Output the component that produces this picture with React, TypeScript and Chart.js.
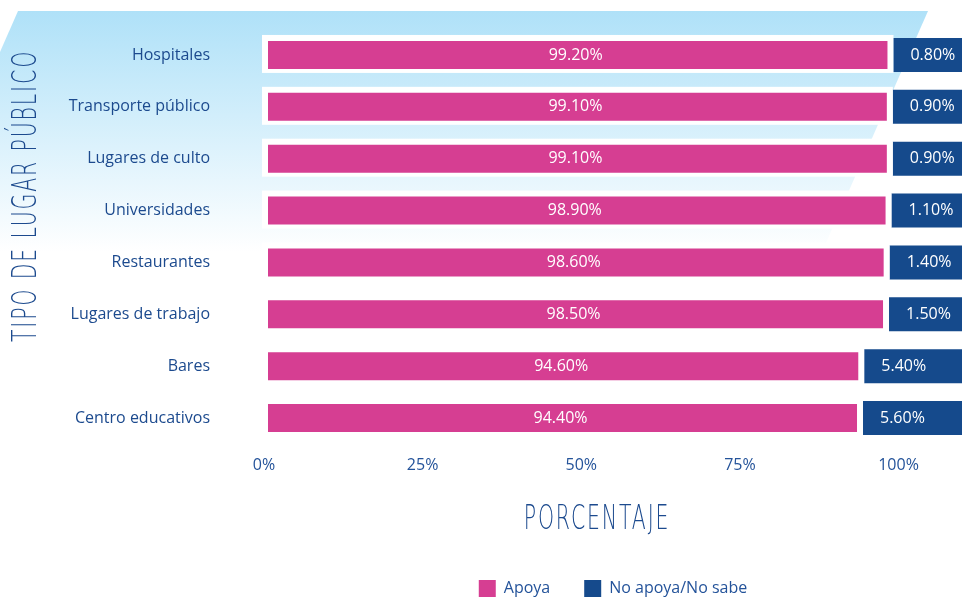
import React, { useEffect, useRef } from "react";
import { Chart, registerables } from "chart.js";

Chart.register(...registerables);

// ---- data ----
const CATEGORIES = [
  "Hospitales",
  "Transporte público",
  "Lugares de culto",
  "Universidades",
  "Restaurantes",
  "Lugares de trabajo",
  "Bares",
  "Centro educativos",
];
const APOYA = [99.2, 99.1, 99.1, 98.9, 98.6, 98.5, 94.6, 94.4];
const NO_APOYA = [0.8, 0.9, 0.9, 1.1, 1.4, 1.5, 5.4, 5.6];
const SERIES_NAMES = ["Apoya", "No apoya/No sabe"];
const TICK_VALUES = [0, 25, 50, 75, 100];
const AXIS_MAX = 110;
const Y_TITLE = "TIPO DE LUGAR PÚBLICO";
const X_TITLE = "PORCENTAJE";

// ---- styles ----
const PINK = "#d63e92";
const NAVY = "#154a8c";
const TEXT = "#1c4a8e";
const THIN = "'DejaVu Sans', sans-serif";
const SANS = "'Open Sans', sans-serif";

const decorPlugin = {
  id: "decor",
  beforeDraw(chart: any) {
    const ctx = chart.ctx;
    const top = 11;
    const bottom = 252;
    const slope = 0.44;
    ctx.save();
    const g = ctx.createLinearGradient(0, top, 0, bottom);
    g.addColorStop(0, "#afe1f8");
    g.addColorStop(1, "#ffffff");
    ctx.fillStyle = g;
    ctx.beginPath();
    ctx.moveTo(18, top);
    ctx.lineTo(928, top);
    ctx.lineTo(928 - slope * (bottom - top), bottom);
    ctx.lineTo(18 - slope * (bottom - top), bottom);
    ctx.closePath();
    ctx.fill();
    ctx.restore();
  },
  beforeDatasetsDraw(chart: any) {
    const ctx = chart.ctx;
    const meta = chart.getDatasetMeta(0);
    ctx.save();
    ctx.fillStyle = "#ffffff";
    meta.data.forEach((bar: any) => {
      const { x, y, base, height } = bar.getProps(["x", "y", "base", "height"], true);
      ctx.fillRect(base - 2, y - height / 2 - 3, x - base + 2, height + 4);
    });
    ctx.restore();
  },
  afterDatasetsDraw(chart: any) {
    const ctx = chart.ctx;
    ctx.save();
    ctx.fillStyle = "#ffffff";
    ctx.font = `16px ${SANS}`;
    ctx.textBaseline = "middle";
    const m0 = chart.getDatasetMeta(0);
    m0.data.forEach((bar: any, i: number) => {
      const { x, y, base } = bar.getProps(["x", "y", "base"], true);
      ctx.textAlign = "center";
      ctx.fillText(APOYA[i].toFixed(2) + "%", (x + base) / 2 - 3, y);
    });
    const m1 = chart.getDatasetMeta(1);
    m1.data.forEach((bar: any, i: number) => {
      const { y, base } = bar.getProps(["y", "base"], true);
      ctx.textAlign = "left";
      ctx.fillText(NO_APOYA[i].toFixed(2) + "%", base + 17, y);
    });
    ctx.restore();
  },
  afterDraw(chart: any) {
    const ctx = chart.ctx;
    ctx.save();
    ctx.fillStyle = TEXT;
    ctx.font = `200 33px ${THIN}`;
    (ctx as any).letterSpacing = "3px";
    ctx.textAlign = "center";
    ctx.textBaseline = "middle";
    // y title
    ctx.save();
    ctx.translate(27, 196);
    ctx.rotate(-Math.PI / 2);
    ctx.scale(0.62, 1);
    ctx.fillText(Y_TITLE, 0, 0);
    ctx.restore();
    // x title
    ctx.save();
    ctx.translate(597, 520);
    ctx.scale(0.62, 1);
    ctx.fillText(X_TITLE, 0, 0);
    ctx.restore();
    (ctx as any).letterSpacing = "0px";
    ctx.restore();
  },
};

export default function App() {
  const ref = useRef<HTMLCanvasElement | null>(null);

  useEffect(() => {
    if (!ref.current) return;
    const chart = new Chart(ref.current, {
      type: "bar",
      data: {
        labels: CATEGORIES,
        datasets: [
          {
            label: SERIES_NAMES[0],
            data: APOYA,
            backgroundColor: PINK,
            borderColor: "#ffffff",
            borderWidth: { left: 4, right: 6, top: 3, bottom: 3 },
            borderSkipped: false,
          },
          {
            label: SERIES_NAMES[1],
            data: APOYA.map((a) => [a, AXIS_MAX]),
            backgroundColor: NAVY,
            borderWidth: 0,
          },
        ],
      },
      options: {
        indexAxis: "y",
        responsive: true,
        maintainAspectRatio: false,
        animation: false,
        layout: { padding: { top: 29, right: 4, left: 0, bottom: 0 } },
        datasets: {
          bar: { grouped: false, barPercentage: 0.655, categoryPercentage: 1 },
        },
        scales: {
          x: {
            min: 0,
            max: AXIS_MAX,
            grid: { display: false, drawTicks: false },
            border: { display: false },
            afterBuildTicks: (scale: any) => {
              scale.ticks = TICK_VALUES.map((v) => ({ value: v }));
            },
            afterFit: (scale: any) => {
              scale.height = 102;
            },
            ticks: {
              padding: 12,
              color: "#24539a",
              font: { family: SANS, size: 16 },
              callback: (v: any) => v + "%",
            },
          },
          y: {
            grid: { display: false, drawTicks: false },
            border: { display: false },
            afterFit: (scale: any) => {
              scale.width = 264;
              scale.paddingTop = 0;
              scale.paddingBottom = 0;
            },
            ticks: {
              padding: 54,
              autoSkip: false,
              color: TEXT,
              font: { family: SANS, size: 16 },
            },
          },
        },
        plugins: {
          tooltip: { enabled: false },
          legend: {
            position: "bottom",
            fullSize: false,
            labels: {
              boxWidth: 17,
              boxHeight: 17,
              padding: 34,
              color: "#24539a",
              font: { family: SANS, size: 16 },
              generateLabels: () =>
                SERIES_NAMES.map((name, i) => ({
                  text: name,
                  fillStyle: i === 0 ? PINK : NAVY,
                  strokeStyle: "rgba(0,0,0,0)",
                  lineWidth: 0,
                  fontColor: "#24539a",
                  hidden: false,
                  datasetIndex: i,
                })),
            },
          },
        },
      } as any,
      plugins: [decorPlugin],
    });
    return () => chart.destroy();
  }, []);

  return (
    <div style={{ position: "fixed", left: 0, top: 0, width: 966, height: 607, background: "#ffffff" }}>
      <canvas ref={ref} />
    </div>
  );
}
